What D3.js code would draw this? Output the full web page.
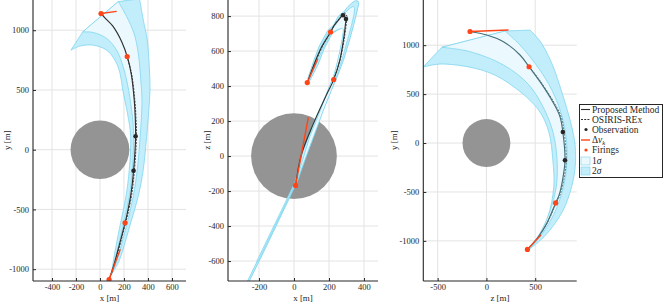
<!DOCTYPE html>
<html><head><meta charset="utf-8">
<script src="https://cdn.jsdelivr.net/npm/d3@7/dist/d3.min.js"></script>
<style>
body{margin:0;background:#fff;}
svg{display:block;}
text{font-family:"Liberation Serif","DejaVu Serif",serif;fill:#262626;}
</style></head>
<body>
<svg id="chart" width="664" height="304"></svg>
<script>
// ---------------- data ----------------
// Proposed method trajectory (3D, metres)
const trajX = [9, 41, 106, 183, 227, 262, 286, 294, 297, 280, 257, 228, 209, 155, 118, 76];
const trajY = [1140, 1104, 1036, 900, 780, 627, 410, 269, 113, -176, -378, -530, -612, -821, -958, -1087];
const trajZ = [-168, 4, 174, 344, 437, 549, 686, 754, 783, 805, 780, 745, 709, 618, 532, 420];
// OSIRIS-REx reference trajectory
const osirisX = [227, 265, 291, 300, 304, 287, 264, 234, 214, 160, 122, 100];
const osirisY = [780, 627, 410, 269, 113, -176, -378, -530, -612, -821, -958, -1030];
const osirisZ = [440, 556, 696, 766, 796, 818, 792, 754, 716, 622, 534, 480];
// Firings and observations
const firingX = [9, 227, 209, 76];
const firingY = [1140, 780, -612, -1087];
const firingZ = [-168, 437, 709, 420];
const obsX = [297, 280];
const obsY = [113, -176];
const obsZ = [783, 805];
// Delta-v segments per view [h0, v0, h1, v1]
const dvXY = [[9, 1140, 139, 1158], [76, -1087, 169, -833]];
const dvXZ = [[9, -168, 82, 221], [76, 420, 135, 553]];
const dvZY = [[-168, 1140, 226, 1156], [420, -1087, 558, -939]];
const asteroidRadius = 245;

// Uncertainty band boundaries per view (far end -> converging end)
const xyOut2 = [[330,1262],[361,1087],[394,920],[411,697],[417,500],[405,300],[389,111],[361,-167],[319,-390],[264,-586],[208,-781],[160,-930],[95,-1045]];
const xyOut1 = [[153,1240],[222,1115],[283,976],[319,808],[340,585],[350,400],[335,111],[311,-167],[278,-389],[230,-600],[180,-790],[140,-930],[95,-1045]];
const xyIn1  = [[-144,986],[-56,981],[56,931],[139,833],[194,694],[222,583],[255,400],[280,150],[270,-167],[245,-389],[200,-600],[155,-800],[120,-940],[95,-1045]];
const xyIn2  = [[-242,833],[-167,867],[-56,875],[56,833],[125,750],[167,639],[190,500],[230,300],[256,111],[244,-167],[217,-389],[172,-611],[135,-800],[110,-940],[95,-1045]];

const zyOut2 = [[447,1155],[555,1035],[640,880],[700,740],[755,576],[810,400],[857,235],[893,80],[910,-40],[910,-240],[873,-447],[787,-685],[651,-890],[530,-1015],[445,-1078]];
const zyOut1 = [[191,1145],[344,1002],[505,805],[640,600],[740,380],[800,160],[825,-50],[815,-300],[770,-520],[690,-730],[590,-900],[505,-1010],[445,-1078]];
const zyIn1  = [[-456,979],[-167,934],[174,798],[430,600],[600,330],[690,80],[725,-200],[715,-450],[650,-700],[555,-910],[445,-1078]];
const zyIn2  = [[-650,776],[-456,808],[4,729],[300,560],[540,330],[640,110],[680,-170],[690,-447],[630,-754],[515,-992],[445,-1078]];

// x-z view: closed outlines
const xz2sigma = [[-256,-716],[-150,-500],[-25,-238],[25,-130],[70,0],[118,130],[165,260],[210,370],[250,460],[285,555],[314,650],[340,745],[360,825],[369,865],[366,886],[350,888],[330,875],[305,850],[282,822],[266,812],[250,794],[226,748],[193,718],[144,628],[112,542],[78,440],[90,430],[138,524],[170,608],[217,700],[250,720],[275,735],[288,740],[282,700],[272,640],[258,570],[240,500],[222,440],[184,352],[108,180],[44,10],[4,-165],[-34,-240],[-266,-716]];
const xz1sigma = [[-205,-600],[-20,-215],[40,-80],[85,40],[130,160],[175,280],[215,380],[250,475],[280,570],[305,660],[328,745],[343,810],[347,845],[338,856],[320,846],[298,824],[280,810],[260,795],[236,746],[203,716],[152,622],[119,536],[84,436],[128,530],[162,612],[212,703],[248,722],[272,730],[283,724],[276,670],[262,600],[246,530],[228,460],[195,380],[150,260],[90,110],[20,-120],[-212,-600]];

// ticks
const xyTicksH = [-400, -200, 0, 200, 400, 600], xyTicksV = [-1000, -500, 0, 500, 1000];
const xzTicksH = [-200, 0, 200, 400], xzTicksV = [-600, -400, -200, 0, 200, 400, 600, 800];
const zyTicksH = [-500, 0, 500], zyTicksV = [-1000, -500, 0, 500, 1000];

// ---------------- drawing ----------------
const svg = d3.select("#chart");
const C = {
  grid: "#e3e3e3", axis: "#262626", traj: "#303030", red: "#ff4517",
  s1: "#ebf9fe", s2: "#c2edfa", edge: "#7bd4ef", ast: "#8e8e8e"
};
const comp = {x: [trajX, osirisX, firingX, obsX], y: [trajY, osirisY, firingY, obsY], z: [trajZ, osirisZ, firingZ, obsZ]};

const panels = [
  {h: "x", v: "y", hd: [-558, 717], vd: [-1099, 1253], hr: [33, 186], vr: [281, 0], ht: xyTicksH, vt: xyTicksV,
   hl: "x [m]", vl: "y [m]", vlx: 7, dv: dvXY, lc: "#303030", band: {out2: xyOut2, out1: xyOut1, in1: xyIn1, in2: xyIn2}},
  {h: "x", v: "z", hd: [-377, 480], vd: [-714, 892], hr: [228, 378], vr: [281, 0], ht: xzTicksH, vt: xzTicksV,
   hl: "x [m]", vl: "z [m]", vlx: 207, dv: dvXZ, lc: "#303030", poly: {s2: xz2sigma, s1: xz1sigma}},
  {h: "z", v: "y", hd: [-647, 925], vd: [-1410, 1462], hr: [423.3, 576.7], vr: [281, 0], ht: zyTicksH, vt: zyTicksV,
   hl: "z [m]", vl: "y [m]", vlx: 394, dv: dvZY, lc: "#466f79", band: {out2: zyOut2, out1: zyOut1, in1: zyIn1, in2: zyIn2}}
];

const defs = svg.append("defs");

panels.forEach((p, i) => {
  const sx = d3.scaleLinear().domain(p.hd).range(p.hr);
  const sy = d3.scaleLinear().domain(p.vd).range(p.vr);
  const g = svg.append("g");
  const clipId = "clip" + i;
  defs.append("clipPath").attr("id", clipId).append("rect")
    .attr("x", p.hr[0]).attr("y", 0).attr("width", p.hr[1] - p.hr[0]).attr("height", p.vr[0]);

  // grid
  g.selectAll(".gv").data(p.ht).join("line")
    .attr("x1", d => sx(d)).attr("x2", d => sx(d)).attr("y1", 0).attr("y2", p.vr[0])
    .attr("stroke", C.grid).attr("stroke-width", 1);
  g.selectAll(".gh").data(p.vt).join("line")
    .attr("y1", d => sy(d)).attr("y2", d => sy(d)).attr("x1", p.hr[0]).attr("x2", p.hr[1])
    .attr("stroke", C.grid).attr("stroke-width", 1);

  const plot = g.append("g").attr("clip-path", `url(#${clipId})`);

  // asteroid
  plot.append("ellipse").attr("cx", sx(0)).attr("cy", sy(0))
    .attr("rx", sx(asteroidRadius) - sx(0)).attr("ry", sy(0) - sy(asteroidRadius))
    .attr("fill", C.ast).attr("fill-opacity", 0.95);

  // bands
  const curve = d3.line().x(d => sx(d[0])).y(d => sy(d[1])).curve(d3.curveCatmullRom.alpha(0.5));
  const lin = d => `L${sx(d[0])},${sy(d[1])}`;
  if (p.band) {
    const b = p.band;
    const rev = a => a.slice().reverse();
    const path2 = curve(b.out2) + curve(rev(b.in2)).replace(/^M/, "L") + lin(b.in1[0]) + lin(b.out1[0]) + "Z";
    const path1 = curve(b.out1) + curve(rev(b.in1)).replace(/^M/, "L") + "Z";
    plot.append("path").attr("d", path2).attr("fill", C.s2).attr("stroke", C.edge).attr("stroke-width", 0.75).attr("stroke-linejoin", "round");
    plot.append("path").attr("d", path1).attr("fill", C.s1).attr("stroke", C.edge).attr("stroke-width", 0.75).attr("stroke-linejoin", "round");
  } else {
    const cl = d3.line().x(d => sx(d[0])).y(d => sy(d[1])).curve(d3.curveLinearClosed);
    plot.append("path").attr("d", cl(p.poly.s2)).attr("fill", C.s2).attr("stroke", C.edge).attr("stroke-width", 0.85).attr("stroke-linejoin", "round");
    plot.append("path").attr("d", cl(p.poly.s1)).attr("fill", C.s1).attr("stroke", C.edge).attr("stroke-width", 0.75).attr("stroke-linejoin", "round");
  }

  const H = comp[p.h], V = comp[p.v];
  const pts = (a, b) => a.map((d, k) => [d, b[k]]);
  // trajectory
  plot.append("path").attr("d", curve(pts(H[0], V[0]))).attr("fill", "none")
    .attr("stroke", p.lc).attr("stroke-width", 1.15);
  // osiris
  plot.append("path").attr("d", curve(pts(H[1], V[1]))).attr("fill", "none")
    .attr("stroke", p.lc).attr("stroke-width", 0.9).attr("stroke-dasharray", "2,1.2");
  // delta v
  plot.selectAll(".dv").data(p.dv).join("line")
    .attr("x1", d => sx(d[0])).attr("y1", d => sy(d[1])).attr("x2", d => sx(d[2])).attr("y2", d => sy(d[3]))
    .attr("stroke", C.red).attr("stroke-width", 1.4);
  // firings
  plot.selectAll(".fir").data(pts(H[2], V[2])).join("circle")
    .attr("cx", d => sx(d[0])).attr("cy", d => sy(d[1])).attr("r", 2.6).attr("fill", C.red);
  // observations
  plot.selectAll(".obs").data(pts(H[3], V[3])).join("circle")
    .attr("cx", d => sx(d[0])).attr("cy", d => sy(d[1])).attr("r", 2.3).attr("fill", "#262626");

  // axes
  const ax = g.append("g").attr("transform", `translate(0,${p.vr[0]})`)
    .call(d3.axisBottom(sx).tickValues(p.ht).tickSize(-3).tickPadding(3).tickFormat(d3.format("d")));
  const ay = g.append("g").attr("transform", `translate(${p.hr[0]},0)`)
    .call(d3.axisLeft(sy).tickValues(p.vt).tickSize(-3).tickPadding(4).tickFormat(d3.format("d")));
  [ax, ay].forEach(a => {
    a.select(".domain").attr("stroke", C.axis).attr("stroke-width", 1.1);
    a.selectAll(".tick line").attr("stroke", C.axis);
    a.selectAll("text").attr("font-size", 8.5).attr("font-family", "Liberation Serif").attr("fill", "#262626");
  });
  ax.select(".domain").attr("d", `M${p.hr[0]},0H${p.hr[1]}`);
  ay.select(".domain").attr("d", `M0,${p.vr[0]}V0`);
  ay.selectAll("text").text(d => d < 0 ? "-" + Math.abs(d) : d);
  ax.selectAll("text").text(d => d < 0 ? "-" + Math.abs(d) : d);

  g.append("text").attr("x", (p.hr[0] + p.hr[1]) / 2).attr("y", 301).attr("text-anchor", "middle")
    .attr("font-size", 9).text(p.hl);
  g.append("text").attr("transform", `translate(${p.vlx},140) rotate(-90)`).attr("text-anchor", "middle")
    .attr("dy", "0.35em").attr("font-size", 9).text(p.vl);
});

// ---------------- legend ----------------
const legendItems = ["Proposed Method", "OSIRIS-REx", "Observation", "dv", "Firings", "1σ", "2σ"];
const lg = svg.append("g");
lg.append("rect").attr("x", 579.5).attr("y", 104.5).attr("width", 83).attr("height", 73)
  .attr("fill", "#fff").attr("stroke", "#262626").attr("stroke-width", 1);
const rowY = [109.5, 119.5, 129.5, 140, 150, 161, 171];
legendItems.forEach((name, k) => {
  const y = rowY[k];
  if (k === 0 || k === 1) lg.append("line").attr("x1", 581).attr("x2", 590).attr("y1", y).attr("y2", y)
    .attr("stroke", C.traj).attr("stroke-width", 1.1).attr("stroke-dasharray", k === 1 ? "2,1.2" : null);
  if (k === 2) lg.append("circle").attr("cx", 586).attr("cy", y).attr("r", 1.6).attr("fill", "#262626");
  if (k === 3) lg.append("line").attr("x1", 581).attr("x2", 590).attr("y1", y).attr("y2", y)
    .attr("stroke", C.red).attr("stroke-width", 1.4);
  if (k === 4) lg.append("circle").attr("cx", 586).attr("cy", y).attr("r", 1.6).attr("fill", C.red);
  if (k === 5 || k === 6) lg.append("rect").attr("x", 581).attr("y", y - 4).attr("width", 9).attr("height", 8)
    .attr("fill", k === 5 ? C.s1 : C.s2).attr("stroke", C.edge).attr("stroke-width", 0.6);
  const t = lg.append("text").attr("x", 592).attr("y", y).attr("dy", "0.33em").attr("font-size", 9.5);
  if (k === 3) {
    t.append("tspan").text("Δ");
    t.append("tspan").attr("font-style", "italic").text("v");
    t.append("tspan").attr("font-style", "italic").attr("font-size", 6.5).attr("dy", "2").text("k");
  } else if (k >= 5) {
    t.text(name.slice(0, 1));
    t.append("tspan").attr("font-style", "italic").text("σ");
  } else t.text(name);
});
</script>
</body></html>
